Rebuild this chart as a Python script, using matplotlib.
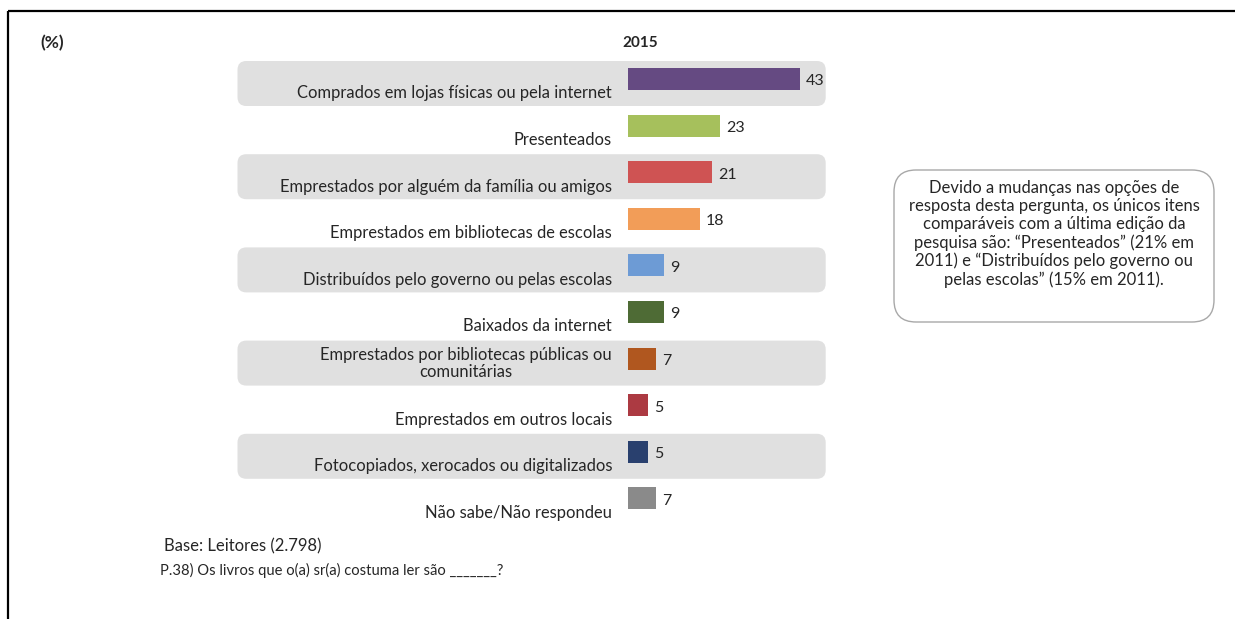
import matplotlib
matplotlib.use("Agg")
import matplotlib.pyplot as plt
from matplotlib.patches import FancyBboxPatch

plt.rcParams['font.family'] = ['Lato', 'DejaVu Sans']

categories = [
    "Comprados em lojas físicas ou pela internet",
    "Presenteados",
    "Emprestados por alguém da família ou amigos",
    "Emprestados em bibliotecas de escolas",
    "Distribuídos pelo governo ou pelas escolas",
    "Baixados da internet",
    "Emprestados por bibliotecas públicas ou\ncomunitárias",
    "Emprestados em outros locais",
    "Fotocopiados, xerocados ou digitalizados",
    "Não sabe/Não respondeu",
]
values_2015 = [43, 23, 21, 18, 9, 9, 7, 5, 5, 7]
bar_colors = ["#654a82", "#a6c05c", "#cf5353", "#f29d58", "#6d9bd5",
              "#4e6b35", "#b0571f", "#ac3a42", "#29406e", "#8a8a8a"]
year_label = "2015"
unit_label = "(%)"
note_text = ("Devido a mudanças nas opções de\n"
             "resposta desta pergunta, os únicos itens\n"
             "comparáveis com a última edição da\n"
             "pesquisa são: “Presenteados” (21% em\n"
             "2011) e “Distribuídos pelo governo ou\n"
             "pelas escolas” (15% em 2011).")
base_text = "Base: Leitores (2.798)"
question_text = "P.38) Os livros que o(a) sr(a) costuma ler são _______?"

W, H = 1235, 619
TXT = "#262626"
fig = plt.figure(figsize=(W / 100, H / 100), dpi=100)

# decoration layer in pixel coordinates
deco = fig.add_axes([0, 0, 1, 1])
deco.set_xlim(0, W)
deco.set_ylim(H, 0)
deco.axis("off")
deco.plot([8, W], [11, 11], color="black", lw=1.6, solid_capstyle="butt")
deco.plot([8, 8], [11, H], color="black", lw=1.6, solid_capstyle="butt")
deco.text(40, 43, unit_label, fontsize=12.5, fontweight="bold", color=TXT,
          ha="left", va="center")
deco.text(640, 43, year_label, fontsize=11, fontweight="bold", color=TXT,
          ha="center", va="center")
deco.add_patch(FancyBboxPatch((894, 170), 320, 152,
                              boxstyle="round,pad=0,rounding_size=22",
                              facecolor="white", edgecolor="#a8a8a8", lw=1.0))
deco.text(1054, 234, note_text, fontsize=12, color=TXT, ha="center",
          va="center", linespacing=1.15)
deco.text(164, 546, base_text, fontsize=12, color=TXT, ha="left", va="center")
deco.text(160, 570, question_text, fontsize=10.6, color=TXT, ha="left", va="center")

# bar axes: 4 px per percentage point, rows 46.6 px apart
x0_px, px_per_unit = 628, 4.0
row_px = 46.6
top_px = 79 - row_px / 2
n = len(categories)
ax = fig.add_axes([x0_px / W, 1 - (top_px + row_px * n) / H,
                   200 / W, row_px * n / H])
ax.set_xlim(0, 200 / px_per_unit)
ax.set_ylim(n - 0.5, -0.5)
ax.axis("off")

ypos = list(range(n))
ax.barh(ypos, values_2015, height=22 / row_px, color=bar_colors, zorder=3)

# shaded bands behind every other row
band_left = (237.5 - x0_px) / px_per_unit
band_right = (825.7 - x0_px) / px_per_unit
band_h = 45 / row_px
aspect = (1 / row_px) / (1 / px_per_unit)
for i in ypos[::2]:
    ax.add_patch(FancyBboxPatch((band_left, i + 4.5 / row_px - band_h / 2),
                                band_right - band_left, band_h,
                                boxstyle="round,pad=0,rounding_size=2.2",
                                mutation_aspect=aspect,
                                facecolor="#e0e0e0", edgecolor="none",
                                zorder=1, clip_on=False))

for i, (cat, v) in enumerate(zip(categories, values_2015)):
    off = 0.11 if "\n" in cat else 0.31
    ax.text(-16 / px_per_unit, i + off, cat, fontsize=11.9, color=TXT,
            ha="right", va="center", multialignment="center",
            linespacing=1.1, zorder=4, clip_on=False)
    ax.text(v + 6 / px_per_unit, i + 0.05, f"{v}", fontsize=11.5, color=TXT,
            ha="left", va="center", zorder=4, clip_on=False)

fig.savefig("out.png", dpi=100)
